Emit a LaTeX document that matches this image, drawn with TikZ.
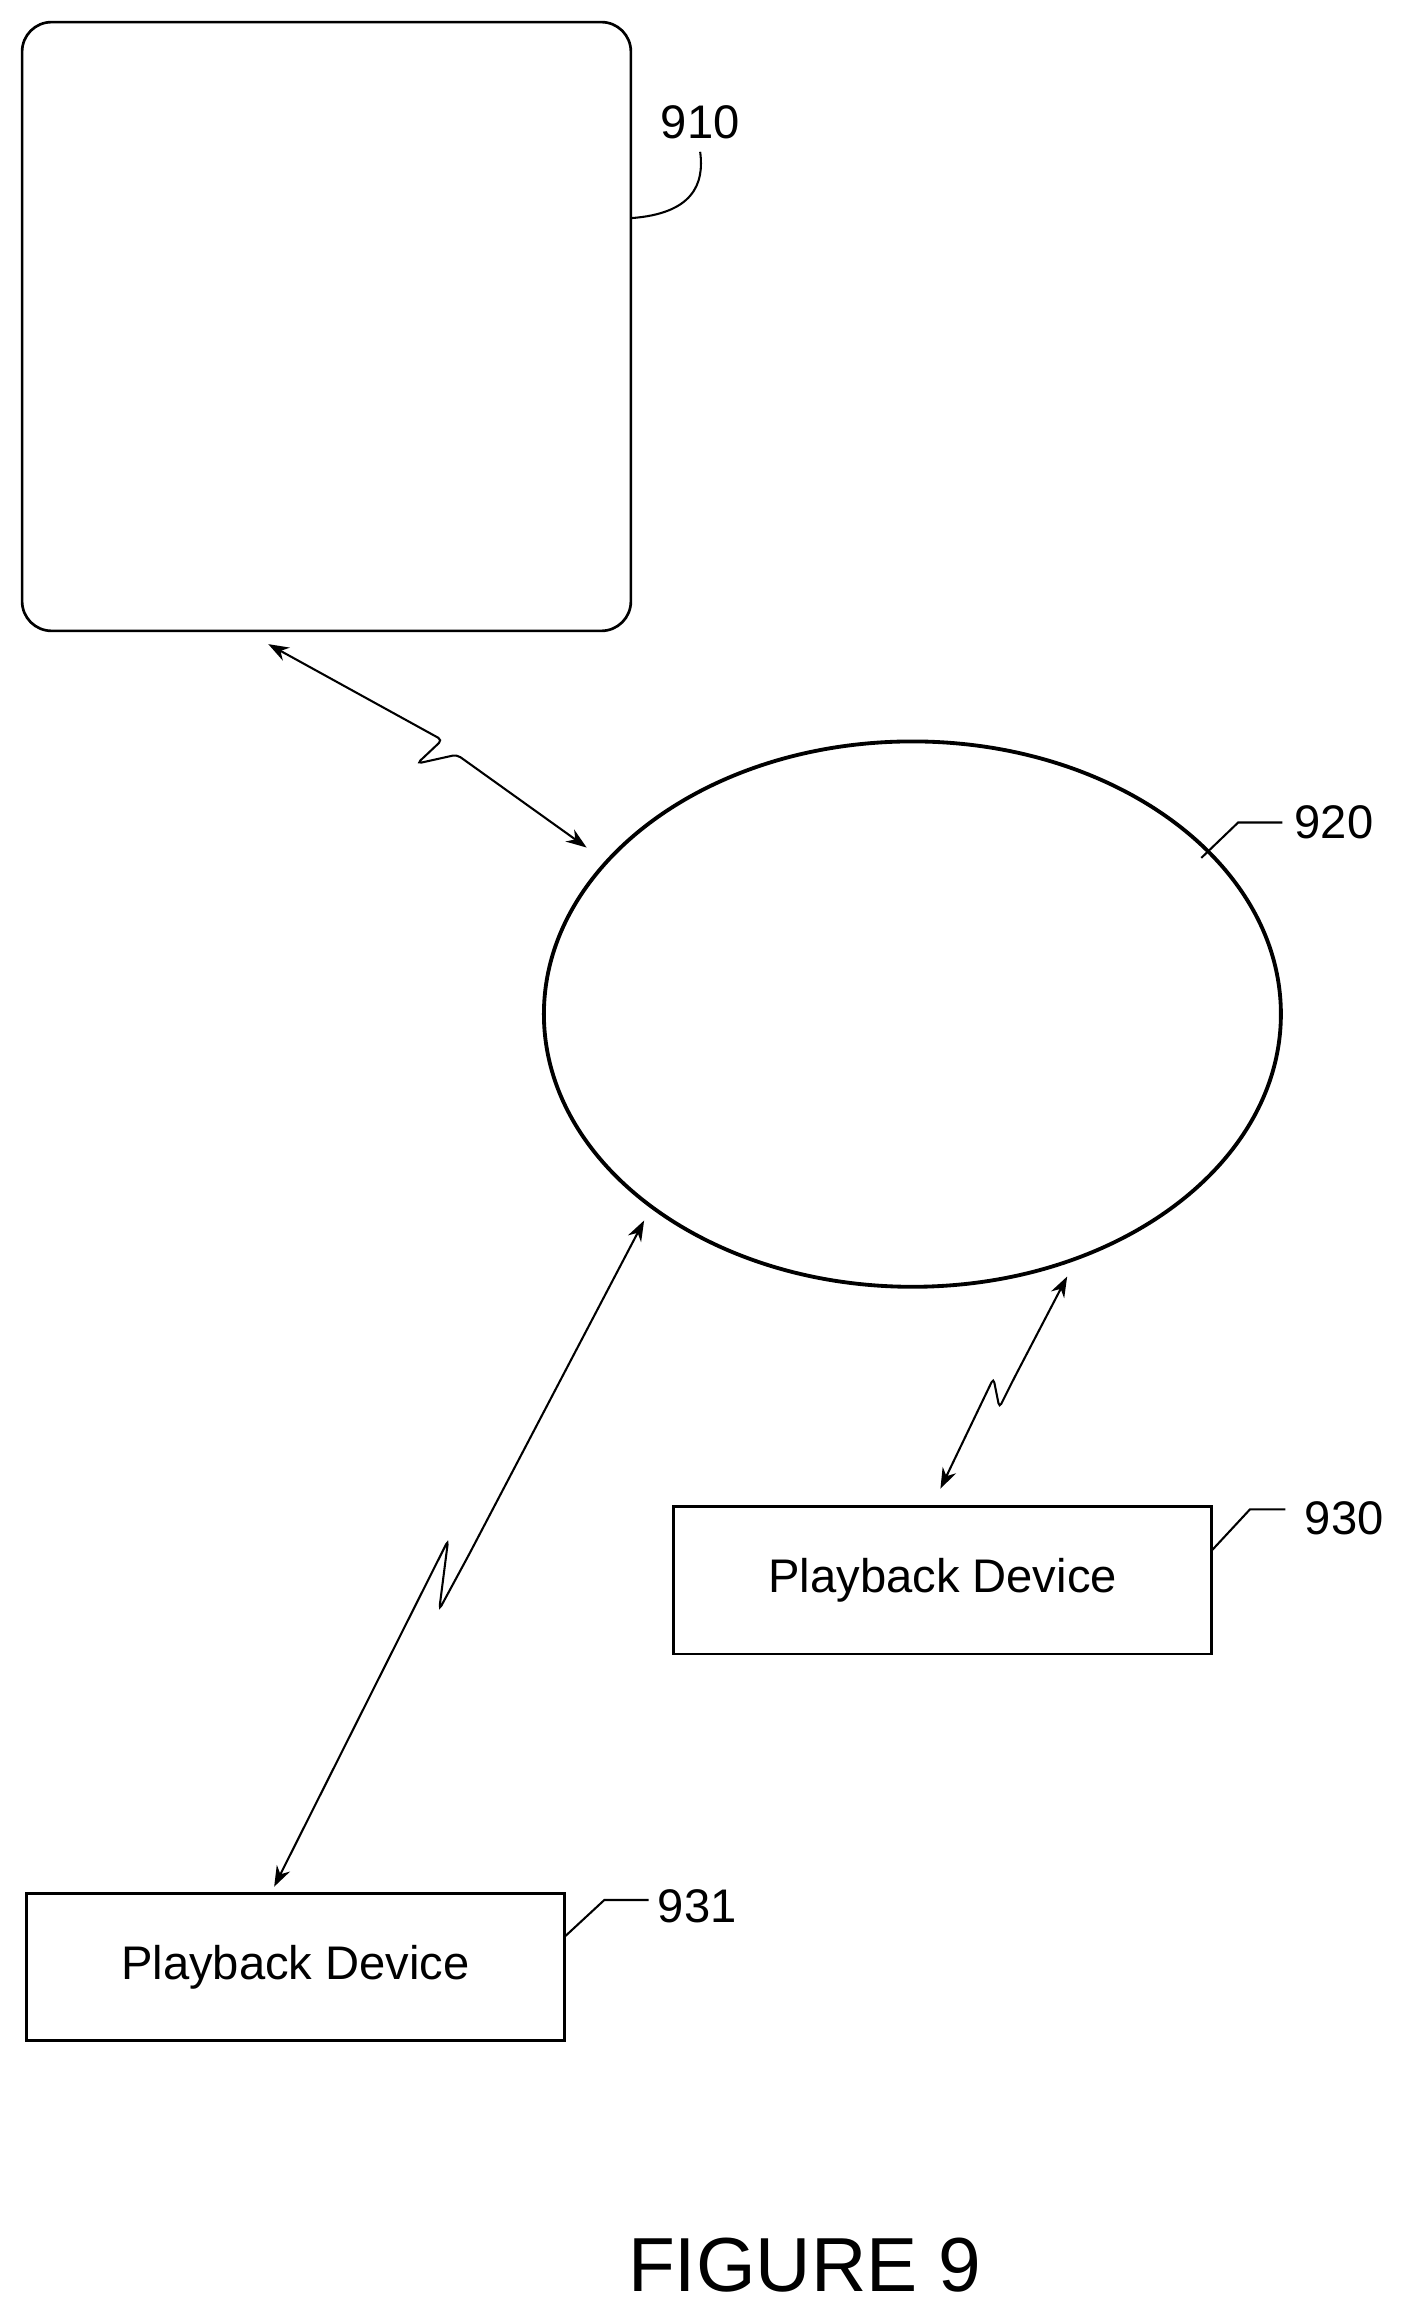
\documentclass[tikz,border=0pt]{standalone}
\usepackage{fontspec}
\setmainfont{Liberation Sans}
\usetikzlibrary{arrows.meta,shapes.geometric}
\begin{document}
\begin{tikzpicture}[x=1pt,y=-1pt,line width=1.8pt,
  lbl/.style={font=\fontsize{32}{36}\selectfont,inner sep=0pt},
  dev/.style={draw,minimum width=365pt,minimum height=100pt,font=\fontsize{32}{36}\selectfont},
  link/.style={{Stealth[length=14pt,width=10pt]}-{Stealth[length=14pt,width=10pt]},line width=1.4pt,rounded corners=3pt}]
\useasboundingbox (0,0) rectangle (960,1576);
\draw[rounded corners=20pt] (15,15) rectangle (428,428);
\node (box910) at (221.5,221.5) [minimum size=413pt] {};
\node[lbl] (l910) at (475,83) {910};
\draw[line width=1.4pt] (428,148) .. controls (470,145) and (478,125) .. (475,103);
\node[draw,ellipse,line width=2.6pt,minimum width=500pt,minimum height=370pt] (net) at (619,688) {};
\node[lbl] (l920) at (905,558) {920};
\draw[line width=1.4pt] (815,582) -- (840,558) -- (870,558);
\node[dev] (d930) at (639.5,1072) {Playback Device};
\node[lbl] (l930) at (912,1030) {930};
\draw[line width=1.4pt] (822,1052) -- (848,1024) -- (872,1024);
\node[dev] (d931) at (200.5,1334.5) {Playback Device};
\node[lbl] (l931) at (473,1293) {931};
\draw[line width=1.4pt] (383,1314) -- (410,1289) -- (440,1289);
\draw[link] (182,437) -- (300,502) -- (283,518) -- (310,512) -- (398,575);
\draw[link] (437,828) -- (318,1055) -- (298,1092) -- (304,1045) -- (186,1280);
\draw[link] (724,866) -- (688,935) -- (678,955) -- (674,935) -- (638,1010);
\node[font=\fontsize{52}{60}\selectfont] (fig) at (546,1537) {FIGURE 9};
\end{tikzpicture}
\end{document}
